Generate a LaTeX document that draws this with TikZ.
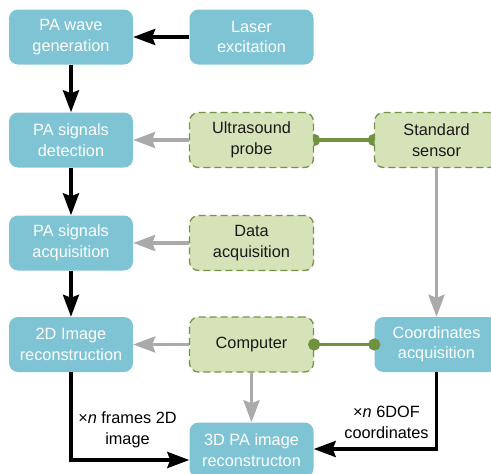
\documentclass[tikz,border=0pt]{standalone}
\usepackage{fontspec}
\setmainfont{Liberation Sans}
\usetikzlibrary{arrows.meta,backgrounds}
\definecolor{stageblue}{RGB}{126,196,213}
\definecolor{devfill}{RGB}{214,227,184}
\definecolor{devline}{RGB}{118,146,72}
\definecolor{linkgreen}{RGB}{110,146,62}
\definecolor{flowgray}{RGB}{170,170,170}
\definecolor{devtext}{RGB}{25,25,25}
\begin{document}
\begin{tikzpicture}[x=1pt,y=-1pt,
  font=\fontsize{16.3}{20.5}\selectfont,
  stage/.style={rectangle, rounded corners=9pt, fill=stageblue, text=white,
    minimum width=124pt, minimum height=55pt, align=center, inner sep=0pt},
  device/.style={stage, fill=devfill, draw=devline, line width=1.3pt,
    dash pattern=on 7pt off 4pt, text=devtext},
  tip/.style={-{Stealth[length=22pt,width=16pt,inset=3pt]}},
  blk/.style={line width=3.6pt, black, tip},
  gry/.style={line width=3.6pt, flowgray, tip},
  link/.style={line width=3.6pt, linkgreen, {Circle[length=12pt]}-{Circle[length=12pt]},
    shorten <=-6pt, shorten >=-6pt},
  note/.style={align=center, text=black, inner sep=0pt}]
\useasboundingbox (0,0) rectangle (491,474);
\clip (0,0) rectangle (491,474);

% left column: processing stages
\node[stage] (pawave) at (71,37) {PA wave\\generation};
\node[stage] (det) at (71,140) {PA signals\\detection};
\node[stage] (acq) at (71,243) {PA signals\\acquisition};
\node[stage] (img2d) at (71,344.5) {2D Image\\reconstruction};

% middle column
\node[stage] (laser) at (251.5,37) {Laser\\excitation};
\node[device] (probe) at (251.5,140) {Ultrasound\\probe};
\node[device] (data) at (251.5,243) {Data\\acquisition};
\node[device] (comp) at (251.5,344.5) {Computer};
\node[stage] (rec3d) at (251.5,450) {3D PA image\\reconstructon};

% right column
\node[device] (sensor) at (436.5,140) {Standard\\sensor};
\node[stage] (coord) at (436.5,344.5) {Coordinates\\acquisition};

% probe and sensor are coupled
\begin{scope}[on background layer]
  \draw[link] (probe.east) -- (sensor.west);
\end{scope}
\draw[link] (comp.east) -- (coord.west);

% signal flow
\draw[blk] (laser) -- (pawave);
\draw[blk] (pawave) -- (det);
\draw[blk] (det) -- (acq);
\draw[blk] (acq) -- (img2d);
\draw[gry] (probe) -- (det);
\draw[gry] (data) -- (acq);
\draw[gry] (comp) -- (img2d);
\draw[gry] (comp) -- (rec3d);
\draw[gry] (sensor) -- (coord);

% fusion into the 3D reconstruction
\draw[blk] (img2d.south) |- ([yshift=-10pt]rec3d.west);
\draw[blk] (coord.south) |- ([yshift=1pt]rec3d.east);
\node[note] (lblframes) at (127.5,430) {×\textit{n} frames 2D\\image};
\node[note] (lblcoords) at (386.5,422.5) {×\textit{n} 6DOF\\coordinates};
\end{tikzpicture}
\end{document}
